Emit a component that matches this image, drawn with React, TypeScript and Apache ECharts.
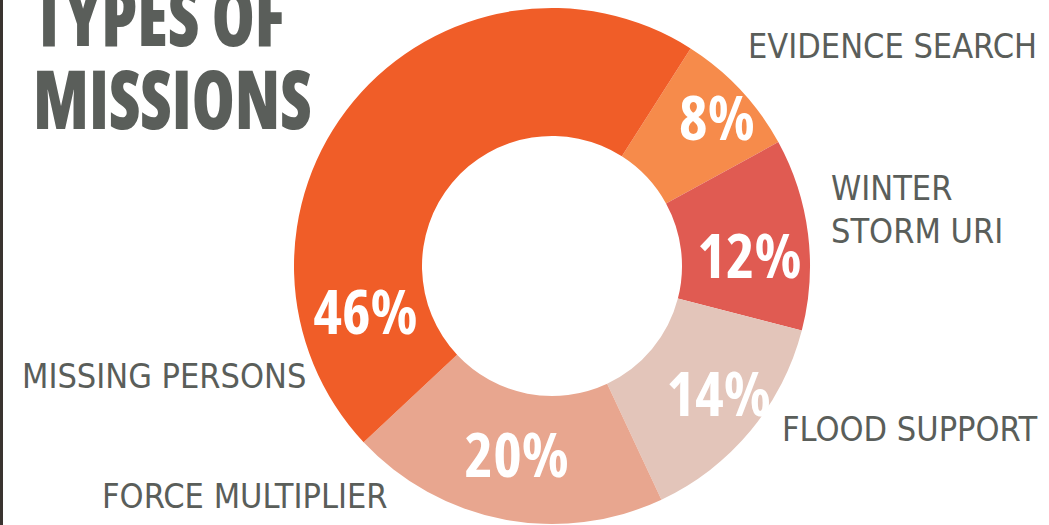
import React, { useEffect, useRef } from "react";
import * as echarts from "echarts";

const categories = [
  "EVIDENCE SEARCH",
  "WINTER STORM URI",
  "FLOOD SUPPORT",
  "FORCE MULTIPLIER",
  "MISSING PERSONS",
];
const shares = [8, 12, 14, 20, 46];
const titleLines = ["TYPES OF", "MISSIONS"];

const sliceColors = ["#F68B4B", "#E05B52", "#E3C5BA", "#E8A68F", "#F05D28"];
const labelOffsets: [number, number][] = [[21, -15], [2, 13], [15, 1], [2, -6], [-35, 170]];
const nameLayout: { x: number; y: number; lines: string[] }[] = [
  { x: 748, y: 29, lines: ["EVIDENCE SEARCH"] },
  { x: 831, y: 171, lines: ["WINTER", "STORM URI"] },
  { x: 782, y: 412, lines: ["FLOOD SUPPORT"] },
  { x: 102, y: 479, lines: ["FORCE MULTIPLIER"] },
  { x: 22, y: 359, lines: ["MISSING PERSONS"] },
];

export default function App() {
  const ref = useRef<HTMLDivElement>(null);
  useEffect(() => {
    document.body.style.margin = "0";
    const chart = echarts.init(ref.current!, null, { renderer: "svg" });
    const gray = "#5A5E5A";
    const nameFont = "'DejaVu Sans Condensed', 'DejaVu Sans', sans-serif";
    const graphics: any[] = [
      { type: "rect", shape: { x: 0, y: 0, width: 3, height: 525 }, style: { fill: "#3a3430" } },
    ];
    titleLines.forEach((t, i) => {
      graphics.push({
        type: "text",
        x: 33,
        y: 55 + i * 83,
        scaleX: 0.845,
        style: {
          text: t,
          fill: gray,
          font: "800 condensed 82px 'Open Sans', sans-serif",
          verticalAlign: "bottom",
        },
      });
    });
    categories.forEach((c, i) => {
      const L = nameLayout[i];
      L.lines.forEach((ln, j) => {
        graphics.push({
          type: "text",
          x: L.x,
          y: L.y + j * 43,
          style: {
            text: ln,
            fill: gray,
            font: `34px ${nameFont}`,
            verticalAlign: "top",
          },
        });
      });
    });
    chart.setOption({
      animation: false,
      backgroundColor: "#ffffff",
      graphic: graphics,
      series: [
        {
          type: "pie",
          center: [552, 266],
          radius: [130, 258],
          startAngle: 57.5,
          clockwise: true,
          silent: true,
          label: {
            show: true,
            position: "inside",
            formatter: "{c}%",
            color: "#ffffff",
            fontSize: 61,
            fontWeight: "bold",
            fontFamily: "'Open Sans', sans-serif;font-stretch:condensed",
          },
          labelLine: { show: false },
          data: categories.map((n, i) => ({
            name: n,
            value: shares[i],
            itemStyle: { color: sliceColors[i] },
            label: { offset: labelOffsets[i] },
          })),
        },
      ],
    });
    return () => chart.dispose();
  }, []);
  return <div ref={ref} style={{ width: 1049, height: 525 }} />;
}
